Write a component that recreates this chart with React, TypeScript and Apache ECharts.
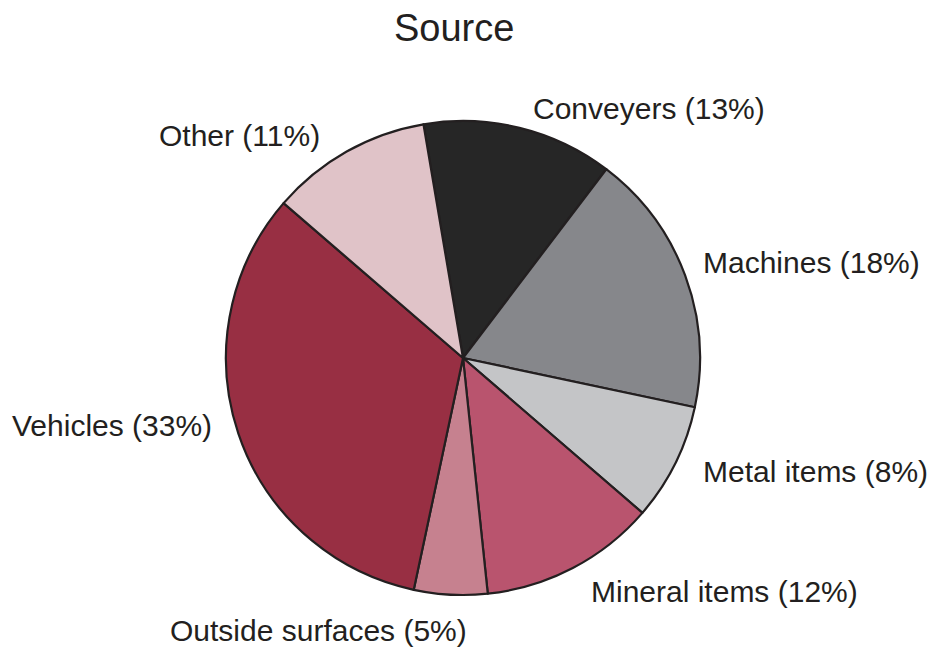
import React, { useEffect, useRef } from "react";
import * as echarts from "echarts";

const categories = [
  "Conveyers",
  "Machines",
  "Metal items",
  "Mineral items",
  "Outside surfaces",
  "Vehicles",
  "Other",
];
const shares = [13, 18, 8, 12, 5, 33, 11];
const sliceColors = [
  "#262626",
  "#86878b",
  "#c4c5c7",
  "#b9546e",
  "#c6818f",
  "#982f43",
  "#e0c3c8",
];
// label anchor (left edge, vertical middle) in px
const labelAnchors: [number, number][] = [
  [533, 108],
  [703, 262],
  [703, 471],
  [591, 591],
  [170, 630],
  [12, 425],
  [159, 135],
];

export default function App() {
  const ref = useRef<HTMLDivElement>(null);
  useEffect(() => {
    if (!ref.current) return;
    const chart = echarts.init(ref.current, undefined, { renderer: "svg" });
    chart.setOption({
      animation: false,
      backgroundColor: "#ffffff",
      title: {
        text: "Source",
        left: 389,
        top: 4,
        textStyle: {
          fontFamily: "Liberation Sans, Arial, sans-serif",
          fontSize: 38,
          fontWeight: "normal",
          color: "#231f20",
        },
      },
      series: [
        {
          type: "pie",
          center: [463, 358],
          radius: [0, 237],
          startAngle: 99.6,
          clockwise: true,
          avoidLabelOverlap: false,
          data: categories.map((c, i) => ({
            name: c,
            value: shares[i],
            itemStyle: { color: sliceColors[i] },
          })),
          itemStyle: { borderColor: "#231f20", borderWidth: 2.2 },
          label: {
            show: true,
            position: "outside",
            formatter: (p: any) => `${p.name} (${p.value}%)`,
            fontFamily: "Liberation Sans, Arial, sans-serif",
            fontSize: 30,
            color: "#231f20",
          },
          labelLine: { show: false },
          labelLayout: (params: any) => {
            const a = labelAnchors[params.dataIndex];
            return { x: a[0], y: a[1], align: "left", verticalAlign: "middle" };
          },
          emphasis: { disabled: true },
        },
      ],
    });
    return () => chart.dispose();
  }, []);
  return <div ref={ref} style={{ width: 935, height: 649, marginLeft: -8, marginTop: -8 }} />;
}
